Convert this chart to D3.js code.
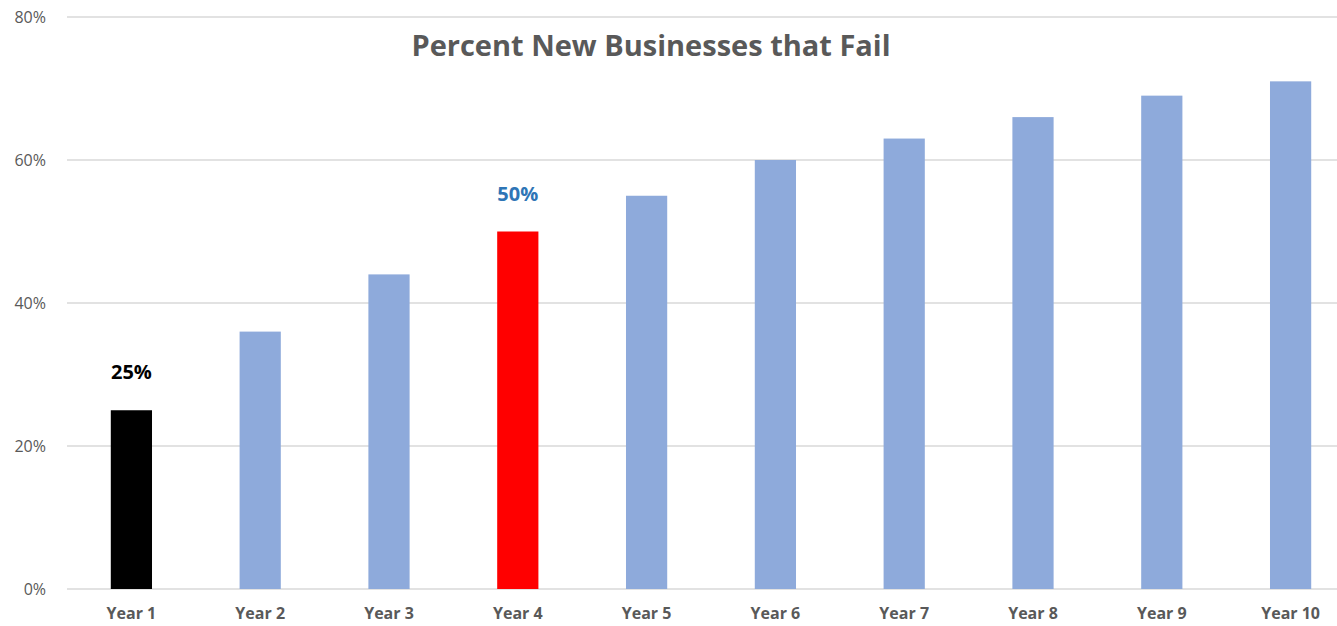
<!DOCTYPE html>
<html>
<head>
<meta charset="utf-8">
<script src="https://cdn.jsdelivr.net/npm/d3@7"></script>
<style>
  body { margin: 0; background: #fff; }
  svg { display: block; font-family: "Open Sans", "Noto Sans", sans-serif; }
</style>
</head>
<body>
<div id="chart"></div>
<script>
const categories = ["Year 1", "Year 2", "Year 3", "Year 4", "Year 5", "Year 6", "Year 7", "Year 8", "Year 9", "Year 10"];
const failRates = [25, 36, 44, 50, 55, 60, 63, 66, 69, 71];
const barColors = ["#000000", "#8eaadb", "#8eaadb", "#ff0000", "#8eaadb", "#8eaadb", "#8eaadb", "#8eaadb", "#8eaadb", "#8eaadb"];
const yTicks = [0, 20, 40, 60, 80];
const callouts = [
  { index: 0, text: "25%", color: "#000000" },
  { index: 3, text: "50%", color: "#2e75b6" }
];

function drawChart() {
  const width = 1337;
  const height = 626;
  const margin = { top: 17, right: -18, bottom: 37, left: 67 };

  const svg = d3.select("#chart")
    .append("svg")
    .attr("width", width)
    .attr("height", height);

  const x = d3.scaleBand()
    .domain(categories)
    .range([margin.left, width - margin.right])
    .paddingInner(0.68)
    .paddingOuter(0.34);

  const y = d3.scaleLinear()
    .domain([0, 80])
    .range([height - margin.bottom, margin.top]);

  // gridlines
  svg.append("g")
    .selectAll("line")
    .data(yTicks)
    .join("line")
    .attr("x1", margin.left)
    .attr("x2", width - margin.right)
    .attr("y1", d => y(d))
    .attr("y2", d => y(d))
    .attr("stroke", "#d9d9d9")
    .attr("stroke-width", 1.5);

  // y axis labels
  const yAxis = svg.append("g")
    .attr("transform", `translate(${margin.left - 18},0)`)
    .call(d3.axisLeft(y).tickValues(yTicks).tickFormat(d => d + "%").tickSize(0));
  yAxis.select(".domain").remove();
  yAxis.selectAll("text")
    .attr("fill", "#595959")
    .style("font-size", "16px")
    .style("font-family", "'Open Sans', sans-serif");

  // bars
  svg.append("g")
    .selectAll("rect")
    .data(failRates)
    .join("rect")
    .attr("x", (d, i) => x(categories[i]))
    .attr("y", d => y(d))
    .attr("width", x.bandwidth())
    .attr("height", d => y(0) - y(d))
    .attr("fill", (d, i) => barColors[i]);

  // x axis labels
  const xAxis = svg.append("g")
    .attr("transform", `translate(0,${y(0)})`)
    .call(d3.axisBottom(x).tickSize(0).tickPadding(19));
  xAxis.select(".domain").remove();
  xAxis.selectAll("text")
    .attr("fill", "#595959")
    .style("font-size", "16px")
    .style("font-weight", "bold")
    .style("font-family", "'Open Sans', sans-serif");

  // callout labels
  svg.append("g")
    .selectAll("text")
    .data(callouts)
    .join("text")
    .attr("x", d => x(categories[d.index]) + x.bandwidth() / 2)
    .attr("y", d => y(failRates[d.index]) - 31)
    .attr("text-anchor", "middle")
    .attr("fill", d => d.color)
    .style("font-size", "20px")
    .style("font-weight", "bold")
    .text(d => d.text);

  // title
  svg.append("text")
    .attr("x", 651)
    .attr("y", 56)
    .attr("text-anchor", "middle")
    .attr("fill", "#595959")
    .style("font-size", "29px")
    .style("font-weight", "bold")
    .text("Percent New Businesses that Fail");
}

drawChart();
</script>
</body>
</html>
